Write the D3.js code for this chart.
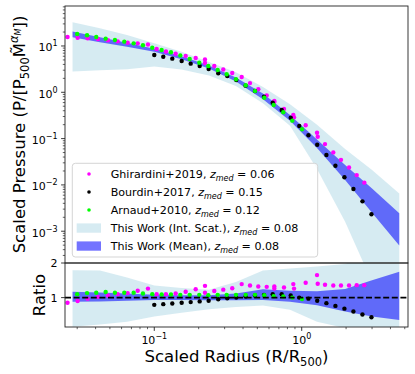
<!DOCTYPE html>
<html>
<head>
<meta charset="utf-8">
<script src="https://cdn.jsdelivr.net/npm/d3@7"></script>
<style>
  body { margin: 0; background: #fff; }
  text { font-family: "DejaVu Sans", sans-serif; fill: #000; }
</style>
</head>
<body>
<svg id="chart" width="415" height="374"></svg>
<script>
// ---- data ----
var band_r = [0.0279, 0.0428, 0.0653, 0.1, 0.153, 0.235, 0.358, 0.546, 0.833, 1.27, 1.97, 3.0, 4.59];

// top panel bands (scaled pressure)
var mean_lo = [15.4, 12.0, 9.6, 7.5, 5.2, 3.27, 1.71, 0.71, 0.243, 0.063, 0.0128, 0.0025, 0.00049];
var mean_hi = [20.5, 15.5, 11.8, 8.7, 6.0, 3.8, 2.08, 0.94, 0.324, 0.096, 0.0268, 0.0084, 0.00245];
var scat_lo = [2.8, 3.0, 3.15, 3.6, 3.1, 2.3, 1.36, 0.58, 0.19, 0.022, 0.0016, 0.00008, 0.00001];
var scat_hi = [32.6, 24, 17.3, 11.5, 7.5, 4.5, 2.7, 1.3, 0.55, 0.2, 0.06, 0.021, 0.0065];

// bottom panel bands (ratio)
var rmean_lo = [0.88, 0.89, 0.91, 0.93, 0.93, 0.92, 0.92, 0.93, 0.88, 0.78, 0.6, 0.45, 0.35];
var rmean_hi = [1.17, 1.15, 1.12, 1.08, 1.07, 1.07, 1.12, 1.24, 1.2, 1.18, 1.25, 1.5, 1.75];
var rscat_lo = [0.16, 0.22, 0.3, 0.45, 0.56, 0.66, 0.73, 0.77, 0.65, 0.3, 0.12, 0.05, 0.02];
var rscat_hi = [1.79, 1.78, 1.58, 1.35, 1.28, 1.23, 1.45, 1.78, 1.84, 1.9, 1.97, 2.3, 2.7];

// Ghirardini+2019
var ghir_r = [0.0258, 0.0302, 0.0353, 0.0415, 0.0485, 0.0565, 0.066, 0.0772, 0.0906, 0.1038,
  0.120, 0.1397, 0.1633, 0.191, 0.2208, 0.2208, 0.2553, 0.2938, 0.338, 0.3917,
  0.446, 0.5077, 0.579, 0.652, 0.652, 0.7584, 0.877, 0.887, 1.064, 1.27,
  1.284, 1.439, 1.638, 1.847, 2.094, 2.361, 2.659];
var ghir_p = [15.6, 15.0, 14.7, 14.1, 13.3, 12.6, 11.7, 11.4, 10.8, 8.6,
  7.6, 6.8, 6.1, 5.5, 5.1, 4.3, 3.7, 3.1, 2.6, 2.14,
  1.58, 1.17, 0.86, 0.65, 0.62, 0.438, 0.323, 0.288, 0.194, 0.134,
  0.110, 0.076, 0.0504, 0.0348, 0.0237, 0.0163, 0.0112];
var ghir_ratio = [0.85, 0.90, 0.97, 1.02, 1.06, 1.10, 1.13, 1.20, 1.26, 1.10,
  1.10, 1.12, 1.17, 1.24, 1.34, 1.14, 1.19, 1.23, 1.27, 1.39,
  1.35, 1.32, 1.31, 1.32, 1.26, 1.29, 1.39, 1.26, 1.43, 1.65,
  1.40, 1.37, 1.35, 1.35, 1.35, 1.36, 1.36];

// Bourdin+2017
var bour_r = [0.100, 0.1151, 0.1325, 0.1534, 0.1766, 0.2032, 0.2338, 0.2716, 0.3126, 0.3598,
  0.4162, 0.4818, 0.5547, 0.6357, 0.7318, 0.8423, 0.9626, 1.111, 1.274, 1.4706,
  1.6929, 1.9487, 2.243, 2.582, 2.972];
var bour_p = [6.39, 5.87, 5.32, 4.74, 4.15, 3.70, 3.19, 2.57, 2.25, 1.84,
  1.39, 1.07, 0.80, 0.596, 0.415, 0.283, 0.187, 0.118, 0.0738, 0.0442,
  0.0260, 0.0146, 0.00815, 0.00442, 0.00232];
var bour_ratio = [0.79, 0.81, 0.83, 0.85, 0.87, 0.89, 0.91, 0.95, 0.98, 1.0,
  1.03, 1.06, 1.08, 1.1, 1.1, 1.06, 1.0, 0.97, 0.91, 0.84,
  0.76, 0.68, 0.6, 0.51, 0.43];

// Arnaud+2010
var arn_r = [0.0300, 0.0350, 0.0404, 0.0468, 0.0541, 0.0626, 0.0725, 0.0838, 0.0969, 0.1122,
  0.1298, 0.1501, 0.1739, 0.2020, 0.2325, 0.2692, 0.3099, 0.3584, 0.4171, 0.4822,
  0.5577, 0.6457, 0.7502, 0.8636, 1.0047];
var arn_p = [18.2, 17.0, 15.6, 14.4, 13.5, 12.4, 11.4, 10.4, 9.19, 8.2,
  7.31, 6.23, 5.24, 4.35, 3.70, 3.03, 2.45, 1.91, 1.42, 1.07,
  0.764, 0.532, 0.370, 0.244, 0.159];
var arn_ratio = [1.1, 1.13, 1.14, 1.16, 1.14, 1.14, 1.14, 1.12, 1.1, 1.09,
  1.09, 1.08, 1.08, 1.08, 1.07, 1.08, 1.08, 1.08, 1.08, 1.08,
  1.07, 1.04, 1.03, 1.0, 0.96];

var x_ticks = [0.1, 1];
var y_ticks = [1e-3, 1e-2, 1e-1, 1, 10];
var ratio_ticks = [1, 2];

var legend_items = [
  {label: "Ghirardini+2019", z: "0.06", kind: "dot", color: "#ff00ff"},
  {label: "Bourdin+2017", z: "0.15", kind: "dot", color: "#000000"},
  {label: "Arnaud+2010", z: "0.12", kind: "dot", color: "#00ff00"},
  {label: "This Work (Int. Scat.)", z: "0.08", kind: "light"},
  {label: "This Work (Mean)", z: "0.08", kind: "dark"}
];

// ---- layout ----
var left = 65, right = 408, top_t = 6, top_b = 263, bot_b = 327;
var light_fill = "#add8e6", light_op = 0.5;
var dark_fill = "#0000ff", dark_op = 0.55;

var svg = d3.select("#chart");

var x = d3.scaleLog().domain([0.0248, 5.26]).range([left, right]);
var y = d3.scaleLog().domain([2.06e-4, 73]).range([top_b, top_t]);
var yr = d3.scaleLinear().domain([0.15, 2]).range([bot_b, top_b]);

var defs = svg.append("defs");
defs.append("clipPath").attr("id", "clipTop").append("rect")
  .attr("x", left).attr("y", top_t).attr("width", right - left).attr("height", top_b - top_t);
defs.append("clipPath").attr("id", "clipBot").append("rect")
  .attr("x", left).attr("y", top_b).attr("width", right - left).attr("height", bot_b - top_b);

function band(ys, lo, hi) {
  return d3.area()
    .x(function(d, i) { return x(band_r[i]); })
    .y0(function(d, i) { return ys(lo[i]); })
    .y1(function(d, i) { return ys(hi[i]); })(band_r);
}

function dots(g, ys, rr, vv, color) {
  g.selectAll(null).data(rr).enter().append("circle")
    .attr("cx", function(d) { return x(d); })
    .attr("cy", function(d, i) { return ys(vv[i]); })
    .attr("r", 2.2)
    .attr("fill", color);
}

// top panel
var gt = svg.append("g").attr("clip-path", "url(#clipTop)");
gt.append("path").attr("d", band(y, scat_lo, scat_hi)).attr("fill", light_fill).attr("fill-opacity", light_op);
gt.append("path").attr("d", band(y, mean_lo, mean_hi)).attr("fill", dark_fill).attr("fill-opacity", dark_op);
dots(gt, y, ghir_r, ghir_p, "#ff00ff");
dots(gt, y, bour_r, bour_p, "#000");
dots(gt, y, arn_r, arn_p, "#00ff00");

// bottom panel
var gb = svg.append("g").attr("clip-path", "url(#clipBot)");
gb.append("path").attr("d", band(yr, rscat_lo, rscat_hi)).attr("fill", light_fill).attr("fill-opacity", light_op);
gb.append("path").attr("d", band(yr, rmean_lo, rmean_hi)).attr("fill", dark_fill).attr("fill-opacity", dark_op);
dots(gb, yr, ghir_r, ghir_ratio, "#ff00ff");
dots(gb, yr, bour_r, bour_ratio, "#000");
dots(gb, yr, arn_r, arn_ratio, "#00ff00");
gb.append("line")
  .attr("x1", left).attr("x2", right).attr("y1", yr(1)).attr("y2", yr(1))
  .attr("stroke", "#000").attr("stroke-width", 1.6).attr("stroke-dasharray", "6,2.6");

// frames
svg.append("rect").attr("x", left).attr("y", top_t).attr("width", right - left).attr("height", top_b - top_t)
  .attr("fill", "none").attr("stroke", "#222").attr("stroke-width", 0.9);
svg.append("rect").attr("x", left).attr("y", top_b).attr("width", right - left).attr("height", bot_b - top_b)
  .attr("fill", "none").attr("stroke", "#222").attr("stroke-width", 0.9);

var minus = "\u2212";
function pow10(sel, e) {
  sel.append("tspan").text("10");
  sel.append("tspan").attr("dy", -5).attr("font-size", 8).text(e < 0 ? minus + (-e) : String(e));
}

// y ticks, top panel
y_ticks.forEach(function(t) {
  var py = y(t);
  svg.append("line").attr("x1", left - 3.9).attr("x2", left).attr("y1", py).attr("y2", py)
    .attr("stroke", "#222").attr("stroke-width", 0.9);
  var tx = svg.append("text").attr("x", left - 7.5).attr("y", py + 5.5)
    .attr("text-anchor", "end").attr("font-size", 11);
  pow10(tx, Math.round(Math.log10(t)));
});
// minor y ticks
for (var e = -4; e <= 1; e++) {
  for (var m = 2; m <= 9; m++) {
    var v = m * Math.pow(10, e);
    if (v < y.domain()[0] || v > y.domain()[1]) continue;
    svg.append("line").attr("x1", left - 2.2).attr("x2", left).attr("y1", y(v)).attr("y2", y(v))
      .attr("stroke", "#222").attr("stroke-width", 0.7);
  }
}

// ratio ticks
ratio_ticks.forEach(function(t) {
  var py = yr(t);
  svg.append("line").attr("x1", left - 3.9).attr("x2", left).attr("y1", py).attr("y2", py)
    .attr("stroke", "#222").attr("stroke-width", 0.9);
  svg.append("text").attr("x", left - 7.5).attr("y", py + 4)
    .attr("text-anchor", "end").attr("font-size", 11).text(t);
});

// x ticks
x_ticks.forEach(function(t) {
  var px = x(t);
  svg.append("line").attr("x1", px).attr("x2", px).attr("y1", bot_b).attr("y2", bot_b + 3.9)
    .attr("stroke", "#222").attr("stroke-width", 0.9);
  var tx = svg.append("text").attr("x", px).attr("y", bot_b + 17)
    .attr("text-anchor", "middle").attr("font-size", 11);
  pow10(tx, Math.round(Math.log10(t)));
});
for (var e2 = -2; e2 <= 0; e2++) {
  for (var m2 = 2; m2 <= 9; m2++) {
    var v2 = m2 * Math.pow(10, e2);
    if (v2 < x.domain()[0] || v2 > x.domain()[1]) continue;
    svg.append("line").attr("x1", x(v2)).attr("x2", x(v2)).attr("y1", bot_b).attr("y2", bot_b + 2.2)
      .attr("stroke", "#222").attr("stroke-width", 0.7);
  }
}

// axis labels
var xl = svg.append("text").attr("x", (left + right) / 2).attr("y", 362)
  .attr("text-anchor", "middle").attr("font-size", 16.5);
xl.append("tspan").text("Scaled Radius (R/R");
xl.append("tspan").attr("dy", 4).attr("font-size", 11.5).text("500");
xl.append("tspan").attr("dy", -4).text(")");

var yl = svg.append("text").attr("transform", "translate(25," + ((top_t + top_b) / 2) + ") rotate(-90)")
  .attr("text-anchor", "middle").attr("font-size", 16.5);
yl.append("tspan").text("Scaled Pressure (P/[P");
yl.append("tspan").attr("dy", 4).attr("font-size", 11.5).text("500");
yl.append("tspan").attr("dy", -4).text("M\u0303");
yl.append("tspan").attr("dy", -7).attr("font-size", 11.5).attr("font-style", "italic").text("\u03b1");
yl.append("tspan").attr("dy", 2.5).attr("font-size", 8).attr("font-style", "italic").text("M");
yl.append("tspan").attr("dy", 4.5).text("])");

svg.append("text").attr("transform", "translate(45," + ((top_b + bot_b) / 2) + ") rotate(-90)")
  .attr("text-anchor", "middle").attr("font-size", 16.5).text("Ratio");

// legend
var lg = svg.append("g");
lg.append("rect").attr("x", 72.3).attr("y", 163.3).attr("width", 245.4).attr("height", 93.7)
  .attr("rx", 3).attr("fill", "#fff").attr("fill-opacity", 0.8).attr("stroke", "#d0d0d0").attr("stroke-width", 0.9);
legend_items.forEach(function(d, i) {
  var cy = 174 + i * 18;
  if (d.kind === "dot") {
    lg.append("circle").attr("cx", 89).attr("cy", cy).attr("r", 1.8).attr("fill", d.color);
  } else {
    lg.append("rect").attr("x", 76.7).attr("y", cy - 4.6).attr("width", 24.3).attr("height", 9.3)
      .attr("fill", d.kind === "light" ? light_fill : dark_fill)
      .attr("fill-opacity", d.kind === "light" ? light_op : dark_op);
  }
  var t = lg.append("text").attr("x", 110.7).attr("y", cy + 4).attr("font-size", 11.1);
  t.append("tspan").text(d.label + ", ");
  t.append("tspan").attr("font-style", "italic").text("z");
  t.append("tspan").attr("font-style", "italic").attr("font-size", 8).attr("dy", 2.5).text("med");
  t.append("tspan").attr("dy", -2.5).text(" = " + d.z);
});
</script>
</body>
</html>
